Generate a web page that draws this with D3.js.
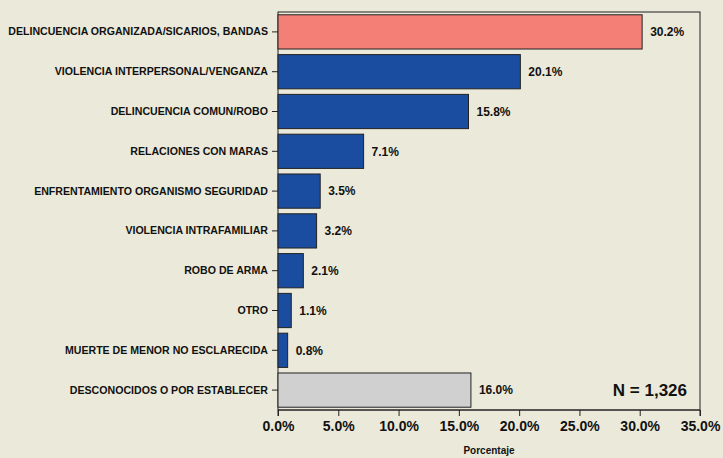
<!DOCTYPE html>
<meta charset="utf-8">
<style>
body { margin: 0; background: #ebe9d9; }
text { font-family: "Liberation Sans", Arial, sans-serif; font-weight: bold; fill: #111; }
.axis path, .axis line { stroke: #222; }
</style>
<script src="https://cdn.jsdelivr.net/npm/d3@7"></script>
<body>
<script>
const categories = [
  'DELINCUENCIA ORGANIZADA/SICARIOS, BANDAS',
  'VIOLENCIA INTERPERSONAL/VENGANZA',
  'DELINCUENCIA COMUN/ROBO',
  'RELACIONES CON MARAS',
  'ENFRENTAMIENTO ORGANISMO SEGURIDAD',
  'VIOLENCIA INTRAFAMILIAR',
  'ROBO DE ARMA',
  'OTRO',
  'MUERTE DE MENOR NO ESCLARECIDA',
  'DESCONOCIDOS O POR ESTABLECER'
];
const values = [30.2, 20.1, 15.8, 7.1, 3.5, 3.2, 2.1, 1.1, 0.8, 16.0];
const barColors = ['#f47f76', '#1a4d9f', '#1a4d9f', '#1a4d9f', '#1a4d9f', '#1a4d9f', '#1a4d9f', '#1a4d9f', '#1a4d9f', '#d0d0d0'];
const xTicks = [0, 5, 10, 15, 20, 25, 30, 35];

const margin = { top: 12, right: 23, bottom: 48, left: 278 };
const width = 723 - margin.left - margin.right;
const height = 458 - margin.top - margin.bottom;

const svg = d3.select('body')
  .append('svg')
    .attr('width', 723)
    .attr('height', 458)
  .append('g')
    .attr('transform', `translate(${margin.left}, ${margin.top})`);

const xScale = d3.scaleLinear()
  .domain([0, 35])
  .range([0, width]);

const yScale = d3.scaleBand()
  .domain(categories)
  .range([0, height])
  .paddingInner(0.14)
  .paddingOuter(0.07);

// frame
svg.append('rect')
  .attr('x', 0).attr('y', 0)
  .attr('width', width).attr('height', height)
  .attr('fill', 'none')
  .attr('stroke', '#222');

svg.selectAll('rect.bar')
  .data(values)
  .enter()
  .append('rect')
    .attr('class', 'bar')
    .attr('x', 0)
    .attr('y', (d, i) => yScale(categories[i]))
    .attr('width', d => xScale(d))
    .attr('height', yScale.bandwidth())
    .attr('fill', (d, i) => barColors[i])
    .attr('stroke', '#222')
    .attr('stroke-width', 1);

svg.selectAll('text.val')
  .data(values)
  .enter()
  .append('text')
    .attr('class', 'val')
    .attr('x', d => xScale(d) + 8)
    .attr('y', (d, i) => yScale(categories[i]) + yScale.bandwidth() / 2)
    .attr('dy', '0.35em')
    .style('font-size', '12px')
    .text(d => d.toFixed(1) + '%');

const yAxis = svg.append('g')
  .attr('class', 'axis')
  .call(d3.axisLeft(yScale).tickSize(6).tickPadding(4));
yAxis.select('.domain').remove();
yAxis.selectAll('text').style('font-size', '10.6px');

const xAxis = svg.append('g')
  .attr('class', 'axis')
  .attr('transform', `translate(0, ${height})`)
  .call(d3.axisBottom(xScale).tickValues(xTicks).tickSize(6).tickPadding(5)
    .tickFormat(d => d.toFixed(1) + '%'));
xAxis.select('.domain').attr('d', `M0,6V0H${width}V6`);
xAxis.selectAll('text').style('font-size', '14px');

svg.append('text')
  .attr('x', width / 2)
  .attr('y', height + 44)
  .attr('text-anchor', 'middle')
  .style('font-size', '10px')
  .text('Porcentaje');

svg.append('text')
  .attr('x', width - 13)
  .attr('y', yScale(categories[9]) + yScale.bandwidth() / 2)
  .attr('dy', '0.35em')
  .attr('text-anchor', 'end')
  .style('font-size', '17px')
  .text('N = 1,326');
</script>
</body>
